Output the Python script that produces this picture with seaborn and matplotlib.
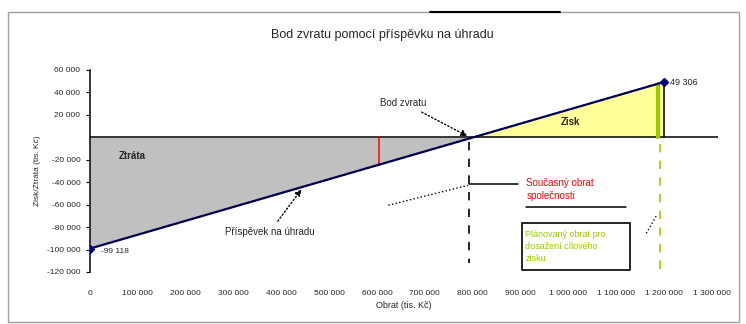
import matplotlib
matplotlib.use("Agg")
import matplotlib.pyplot as plt
from matplotlib.lines import Line2D
from matplotlib.patches import Rectangle
import numpy as np
import pandas as pd
import seaborn as sns

# Break-even data (turnover vs. profit/loss)
obrat = [0, 801340, 1200000]            # turnover, tis. Kč
zisk = [-99118, 0, 49306]               # profit / loss, tis. Kč
x_ticks = [0, 100000, 200000, 300000, 400000, 500000, 600000,
           700000, 800000, 900000, 1000000, 1100000, 1200000, 1300000]
y_ticks = [60000, 40000, 20000, -20000, -40000, -60000, -80000, -100000, -120000]
soucasny_obrat = 604000                 # current turnover
planovany_obrat = 1187000               # planned turnover


def profit_at(x):
    return float(np.interp(x, obrat, zisk))


def fmt(v):
    s = f"{abs(int(v)):,}".replace(",", " ")
    return ("-" if v < 0 else "") + s


sns.set_theme(style="white")
plt.rcParams["font.family"] = ["Liberation Sans", "DejaVu Sans"]

fig = plt.figure(figsize=(7.46, 3.24), dpi=100)
ax = fig.add_axes([90 / 746, 1 - 272 / 324, (718 - 90) / 746, (272 - 70) / 324])

df = pd.DataFrame({"obrat": obrat, "zisk": zisk})

ax.fill_between([0, obrat[1]], [zisk[0], 0], 0, color="#c0c0c0", lw=0, zorder=1)
ax.fill_between([obrat[1], obrat[2]], [0, zisk[2]], 0, color="#ffff99", lw=0, zorder=1)

sns.lineplot(data=df, x="obrat", y="zisk", ax=ax, color="#000080", lw=1.6, zorder=4)
ax.plot(obrat, zisk, color="black", lw=0.9, dashes=(2.5, 2.5), zorder=5)
ax.plot([obrat[0], obrat[2]], [zisk[0], zisk[2]], ls="none", marker="D",
        ms=4.5, color="#000080", zorder=6)

# zero line (x axis)
ax.axhline(0, color="black", lw=1.1, zorder=3)

# current turnover (red) and planned turnover (green)
ax.plot([soucasny_obrat, soucasny_obrat], [profit_at(soucasny_obrat), 0], color="red", lw=1.1, zorder=3)
ax.plot([planovany_obrat, planovany_obrat], [0, profit_at(planovany_obrat)], color="#99cc00", lw=3, zorder=3)
ax.plot([obrat[2], obrat[2]], [0, zisk[2]], color="black", lw=1.1, zorder=3)
ax.plot([planovany_obrat + 4000] * 2, [-6000, -120000], color="#99cc00", lw=1.2,
        dashes=(5, 5), zorder=3)
ax.plot([obrat[1] - 8000] * 2, [-4000, -112000], color="black", lw=1.2,
        dashes=(5, 5), zorder=3)

ax.set_xlim(0, 1313000)
ax.set_ylim(-120000, 60000)
ax.set_xticks(x_ticks)
ax.set_xticklabels([fmt(v) for v in x_ticks], fontsize=6)
ax.set_yticks(y_ticks)
ax.set_yticklabels([fmt(v) for v in y_ticks], fontsize=6)
ax.tick_params(axis="x", length=0, pad=13)
ax.tick_params(axis="y", length=3, width=0.8, color="black", direction="out", pad=4, left=True)
for s in ["top", "right", "bottom"]:
    ax.spines[s].set_visible(False)
ax.spines["left"].set_color("black")
ax.spines["left"].set_linewidth(1.1)
ax.set_xlabel("Obrat (tis. Kč)", fontsize=6.5, labelpad=3)
ax.set_ylabel("Zisk/Ztráta (tis. Kč)", fontsize=6, labelpad=4)
ax.grid(False)
ax.patch.set_alpha(0)

# text labels
ax.text(60000, -17000, "Ztráta", fontsize=7, weight="bold", va="center")
ax.text(985000, 14000, "Zisk", fontsize=7, weight="bold", va="center")
ax.text(22000, -102000, fmt(zisk[0]), fontsize=6, va="center")
ax.text(1212000, 48500, fmt(zisk[2]), fontsize=6.5, va="center")

ax.annotate("Bod zvratu", xy=(obrat[1] - 12000, 1000), xytext=(607000, 31000),
            fontsize=7, va="center", ha="left",
            arrowprops=dict(arrowstyle="-|>", linestyle=":", color="black", lw=1,
                            shrinkA=2, shrinkB=0, mutation_scale=9))
x_arr = 442000
ax.annotate("Příspěvek na úhradu", xy=(x_arr, profit_at(x_arr) - 2000), xytext=(470000, -84000),
            fontsize=7, va="center", ha="right",
            arrowprops=dict(arrowstyle="-|>", linestyle=":", color="black", lw=1,
                            shrinkA=2, shrinkB=0, mutation_scale=9))

# current turnover callout
ax.plot([792000, 895000], [-42000, -42000], color="black", lw=1.1)
ax.plot([624000, 790000], [-60500, -42800], color="black", lw=1, ls=":")
ax.text(912000, -46500, "Současný obrat\nspolečnosti", fontsize=7, color="red",
        va="center", ha="left", linespacing=1.4)
ax.plot([912000, 1121000], [-62400, -62400], color="black", lw=1.1)

# planned turnover callout
ax.add_patch(Rectangle((903000, -118500), 225000, 41900, fill=False,
                       edgecolor="black", lw=1.2, zorder=5))
ax.text(910000, -97500, "Plánovaný obrat pro\ndosažení cílového\nzisku", fontsize=6.5,
        color="#99cc00", va="center", ha="left", linespacing=1.45)
ax.plot([1163000, 1186000], [-85500, -68500], color="black", lw=1, ls=":")

fig.text(382 / 746, 1 - 35 / 324, "Bod zvratu pomocí příspěvku na úhradu",
         fontsize=9, ha="center", va="center")

# outer chart frame
fig.add_artist(Rectangle((8 / 746, 1 - 322 / 324), 731 / 746, 310 / 324,
                         transform=fig.transFigure, fill=False,
                         edgecolor="#a0a0a0", lw=1))
fig.add_artist(Line2D([430 / 746, 560 / 746], [1 - 12 / 324] * 2,
                      transform=fig.transFigure, color="black", lw=1.5))

fig.savefig("out.png", dpi=100)
